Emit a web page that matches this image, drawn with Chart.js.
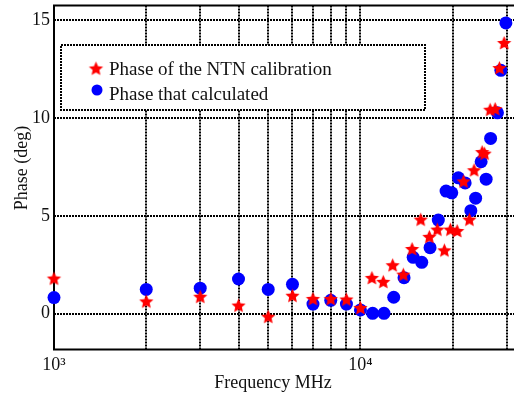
<!DOCTYPE html>
<html><head><meta charset="utf-8">
<script src="https://cdn.jsdelivr.net/npm/chart.js@4.4.0/dist/chart.umd.min.js"></script>
<style>html,body{margin:0;padding:0;background:#fff;overflow:hidden}#wrap{width:514px;height:397px;position:relative}</style>
</head><body><div id="wrap"><canvas id="c"></canvas></div>
<script>
// ---- data ----
const seriesLabels = ['Phase of the NTN calibration', 'Phase that calculated'];
const redFreq  = [1000,2000,3000,4000,5000,6000,7000,8000,9000,10000,10900,11870,12740,13800,14740,15730,16780,17820,18790,19660,20680,21710,22680,23490,24950,25420,26500,27510,28410,29440];
const redPhase = [1.77,0.60,0.84,0.39,-0.18,0.89,0.73,0.73,0.70,0.27,1.80,1.60,2.45,1.97,3.28,4.78,3.90,4.27,3.21,4.27,4.20,6.73,4.78,7.30,8.23,8.15,10.39,10.43,12.52,13.80];
const blueFreq  = [1000,2000,3000,4000,5000,6000,7000,8000,9000,10000,10960,11935,12840,13875,14860,15850,16870,17950,19030,19860,20870,21960,22920,23760,24760,25710,26590,27990,28720,29820];
const bluePhase = [0.82,1.24,1.30,1.77,1.24,1.50,0.49,0.68,0.49,0.19,0.02,0.02,0.84,1.84,2.88,2.62,3.37,4.78,6.26,6.17,6.94,6.68,5.26,5.90,7.76,6.87,8.95,10.26,12.43,14.85];
const xTickValues = [1000,2000,3000,4000,5000,6000,7000,8000,9000,10000,20000,30000];
const xTickLabels = {1000: '10\u00B3', 10000: '10\u2074'};
const yTickValues = [0, 5, 10, 15];
const xTitle = 'Frequency MHz';
const yTitle = 'Phase (deg)';

const FONT = '"Liberation Serif", "Times New Roman", serif';

function makeStar(r, color) {
  const s = Math.ceil(r * 2 + 2);
  const c = document.createElement('canvas');
  c.width = s; c.height = s;
  const g = c.getContext('2d');
  g.fillStyle = color;
  g.beginPath();
  for (let i = 0; i < 10; i++) {
    const rr = i % 2 ? r * 0.47 : r;
    const a = -Math.PI / 2 + i * Math.PI / 5;
    g.lineTo(s / 2 + rr * Math.cos(a), s / 2 + rr * Math.sin(a));
  }
  g.closePath();
  g.fill();
  return c;
}
const starImg = makeStar(7.5, '#ff0000');

const toPts = (xs, ys) => xs.map((x, i) => ({x: x, y: ys[i]}));

const framePlugin = {
  id: 'frame',
  beforeDatasetsDraw(chart) {
    const ctx = chart.ctx, a = chart.chartArea;
    ctx.save();
    ctx.strokeStyle = '#000';
    ctx.lineWidth = 2;
    ctx.setLineDash([]);
    ctx.beginPath();
    ctx.moveTo(a.right + 2, a.top);
    ctx.lineTo(a.left, a.top);
    ctx.lineTo(a.left, a.bottom);
    ctx.lineTo(a.right + 2, a.bottom);
    ctx.stroke();
    ctx.restore();
  },
  afterDraw(chart) {
    const ctx = chart.ctx;
    ctx.save();
    ctx.strokeStyle = '#000';
    ctx.lineWidth = 2;
    const lx = 61, ly = 45, lw = 364, lh = 65;
    ctx.fillStyle = '#fff';
    ctx.fillRect(lx, ly, lw, lh);
    ctx.setLineDash([2, 1]);
    ctx.strokeRect(lx, ly, lw, lh);
    ctx.setLineDash([]);
    ctx.drawImage(starImg, 96 - starImg.width / 2, 69 - starImg.height / 2);
    ctx.fillStyle = '#0000ff';
    ctx.beginPath();
    ctx.arc(97, 90, 5.5, 0, Math.PI * 2);
    ctx.fill();
    ctx.fillStyle = '#111';
    ctx.font = '19px ' + FONT;
    ctx.textBaseline = 'alphabetic';
    ctx.textAlign = 'left';
    ctx.fillText(chart.data.datasets[0].label, 109, 75);
    ctx.fillText(chart.data.datasets[1].label, 109, 100);
    ctx.font = '18px ' + FONT;
    ctx.textAlign = 'center';
    ctx.fillText(xTitle, 273, 388);
    ctx.translate(27, 168);
    ctx.rotate(-Math.PI / 2);
    ctx.fillText(yTitle, 0, 0);
    ctx.restore();
  }
};

new Chart(document.getElementById('c'), {
  type: 'scatter',
  data: {
    datasets: [
      {label: seriesLabels[0], data: toPts(redFreq, redPhase), pointStyle: starImg, backgroundColor: '#ff0000', borderColor: '#ff0000', order: 1, clip: false},
      {label: seriesLabels[1], data: toPts(blueFreq, bluePhase), pointStyle: 'circle', pointRadius: 6.5, borderWidth: 0, backgroundColor: '#0000ff', borderColor: '#0000ff', order: 2, clip: false}
    ]
  },
  options: {
    responsive: true,
    maintainAspectRatio: false,
    animation: false,
    devicePixelRatio: 1,
    layout: {autoPadding: false, padding: {top: 5.5, right: 0, left: 0, bottom: 0}},
    plugins: {legend: {display: false}, tooltip: {enabled: false}},
    scales: {
      x: {
        type: 'logarithmic',
        min: 1000, max: 31700,
        afterBuildTicks(s) { s.ticks = xTickValues.map(v => ({value: v})); },
        afterFit(s) { s.height = 47.5; s.paddingLeft = 0; s.paddingRight = 0; },
        ticks: {
          autoSkip: false, maxRotation: 0, minRotation: 0, padding: 5,
          color: '#111', font: {family: FONT, size: 18},
          callback: (v) => xTickLabels[v] || ''
        },
        grid: {color: '#000', lineWidth: 2, drawTicks: false},
        border: {display: false, dash: [2, 1]}
      },
      y: {
        type: 'linear',
        min: -1.83, max: 15.74,
        afterBuildTicks(s) { s.ticks = yTickValues.map(v => ({value: v})); },
        afterFit(s) { s.width = 54; s.paddingTop = 0; s.paddingBottom = 0; },
        ticks: {
          padding: 4, color: '#111', font: {family: FONT, size: 18},
          callback: (v) => String(v)
        },
        grid: {color: '#000', lineWidth: 2, drawTicks: false},
        border: {display: false, dash: [2, 1]}
      }
    }
  },
  plugins: [framePlugin]
});
</script>
</body></html>
